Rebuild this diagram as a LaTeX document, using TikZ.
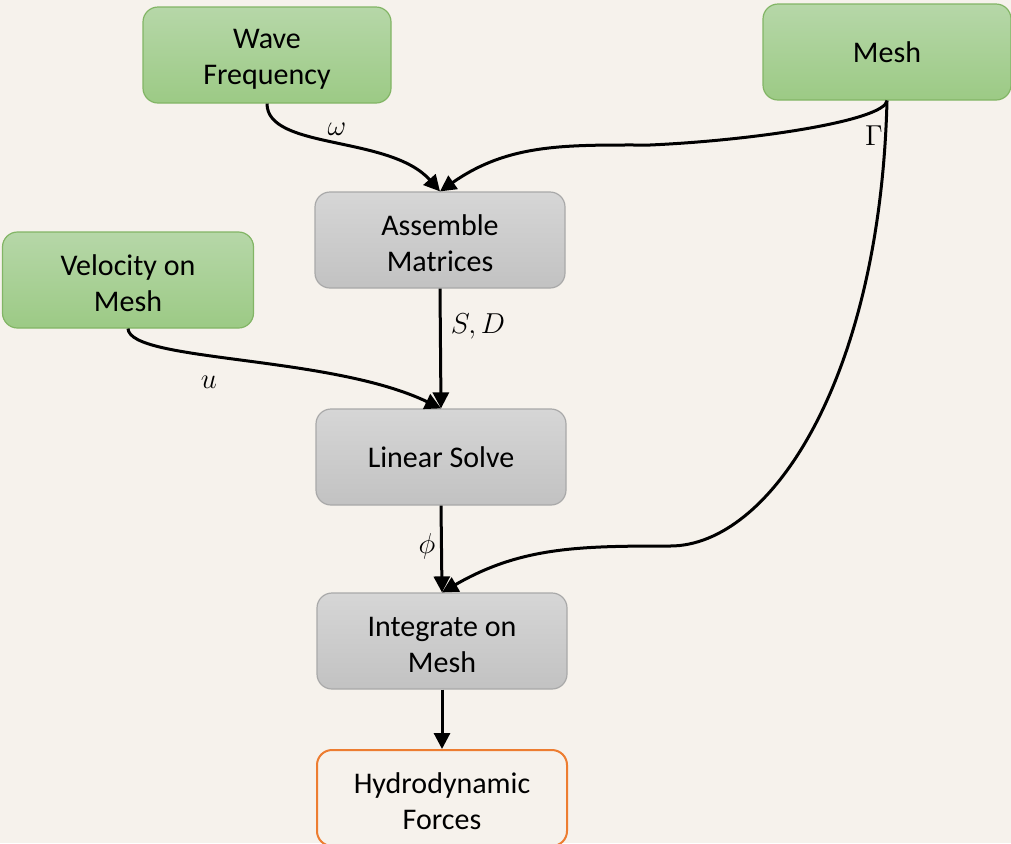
\documentclass[tikz,border=0pt]{standalone}
\usepackage{fontspec}
\setmainfont{Carlito}
\usetikzlibrary{arrows.meta}

\definecolor{paper}{HTML}{F6F2EC}
\definecolor{greentop}{HTML}{B6D7A8}
\definecolor{greenbot}{HTML}{9CCA85}
\definecolor{greenline}{HTML}{82B565}
\definecolor{graytop}{HTML}{D6D6D6}
\definecolor{graybot}{HTML}{C2C2C2}
\definecolor{grayline}{HTML}{A9A9A9}
\definecolor{orangeline}{HTML}{ED7D31}

\tikzset{
  inputbox/.style={draw=greenline, line width=0.6pt, top color=greentop, bottom color=greenbot,
    rounded corners=7.5pt, align=center, inner sep=0pt, minimum width=124pt, minimum height=48pt},
  procbox/.style={draw=grayline, line width=0.6pt, top color=graytop, bottom color=graybot,
    rounded corners=7.5pt, align=center, inner sep=0pt, minimum width=125pt, minimum height=48pt},
  outbox/.style={draw=orangeline, line width=1pt, fill=paper,
    rounded corners=7.5pt, align=center, inner sep=0pt, minimum width=125pt, minimum height=48pt},
  twoline/.style={text height=32pt},
  flow/.style={draw=black, line width=1.5pt, -{Triangle[length=8pt,width=8pt]}},
  sym/.style={inner sep=0pt, font=\fontsize{13.5}{16}\selectfont},
}

\begin{document}
\begin{tikzpicture}[%
      x=0.5pt, y=-0.5pt,
      font=\fontsize{15}{18}\selectfont,
      ]
      \useasboundingbox (0,0) rectangle (1011,843);
      \clip (0,0) rectangle (1011,843);
      \fill [paper] (0,0) rectangle (1011,843);

      \node [inputbox, twoline] (wave) at (267,55) {Wave\\Frequency};
      \node [inputbox] (mesh) at (887,52) {Mesh};
      \node [inputbox, twoline, minimum width=125.5pt] (vel) at (128,280) {Velocity on\\Mesh};
      \node [procbox, twoline] (asm) at (440,240) {Assemble\\Matrices};
      \node [procbox] (lin) at (441,457) {Linear Solve};
      \node [procbox, twoline] (integ) at (442,641) {Integrate on\\Mesh};
      \node [outbox, twoline] (hydro) at (442,798) {Hydrodynamic\\Forces};

      \draw [flow] (wave.south) .. controls (267,150) and (390,135) .. (asm.north);
      \draw [flow] (mesh.south) .. controls (885,120) and (760,140) .. (650,145)
            to[out=180, in=35] (asm.north);
      \draw [flow] (asm.south) -- (lin.north);
      \draw [flow] (vel.south) .. controls (130,362) and (330,355) .. (lin.north);
      \draw [flow] (lin.south) -- (integ.north);
      \draw [flow] (mesh.south) .. controls (880,380) and (770,546) .. (670,546)
            to[out=180, in=30] (integ.north);
      \draw [flow] (integ.south) -- (hydro.north);

      \node [sym] (omega) at (337,129) {$\omega$};
      \node [sym] (gamma) at (874,136) {$\Gamma$};
      \node [sym] (sd) at (478,326) {$S,D$};
      \node [sym] (uvel) at (209,382) {$u$};
      \node [sym] (phi) at (427,546) {$\phi$};
      \end{tikzpicture}
\end{document}
